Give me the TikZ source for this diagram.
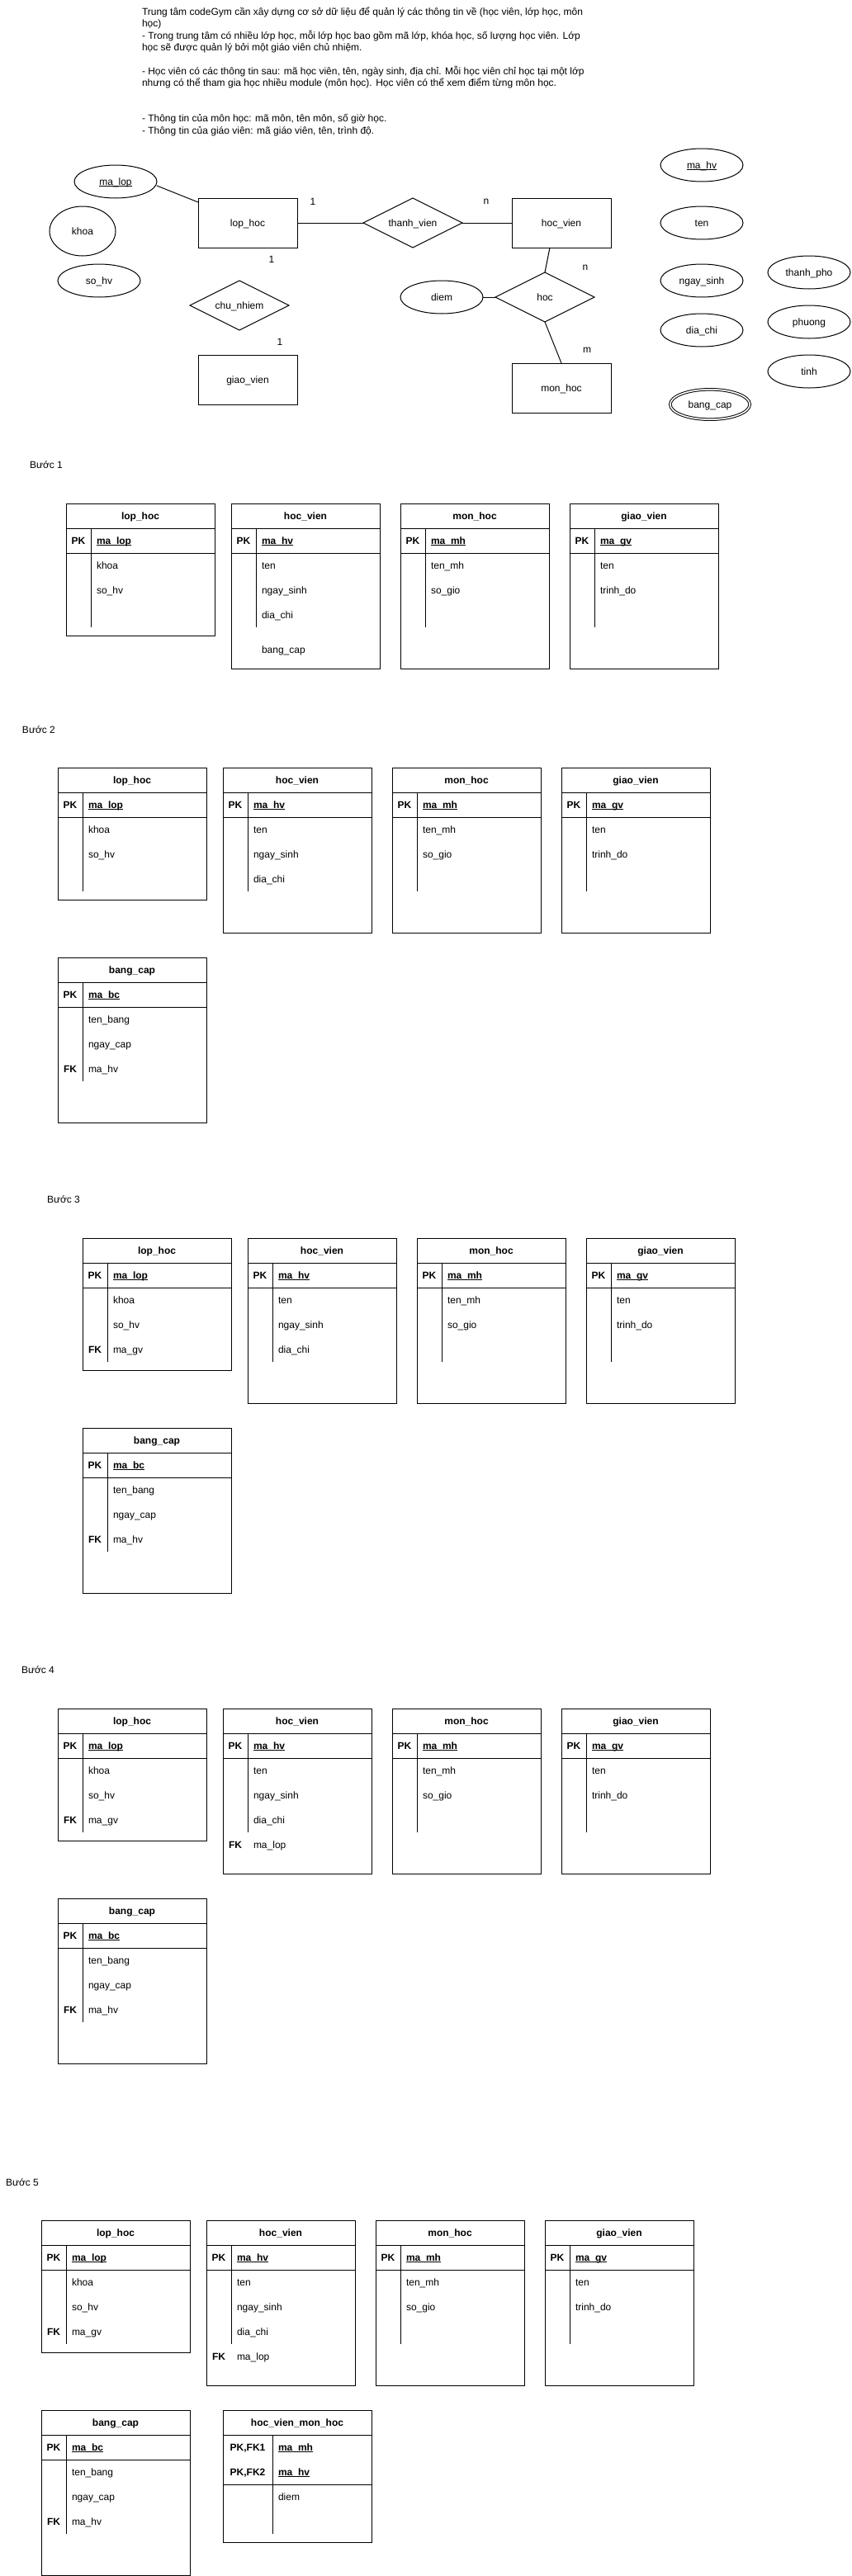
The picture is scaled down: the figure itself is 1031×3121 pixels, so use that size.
\documentclass[tikz,border=0pt]{standalone}
\usepackage{fontspec}
\setmainfont{Liberation Sans}
\usetikzlibrary{shapes.geometric,calc}

\newcommand\keyul[1]{\setbox0=\hbox{#1}\rlap{\rule[-2pt]{\wd0}{0.9pt}}\box0}

\tikzset{
  lbl/.style={font=\fontsize{12}{14.4}\selectfont, text height=10.9pt, text depth=2.5pt, inner sep=0pt, outer sep=0pt},
  ent/.style={lbl, draw, rectangle, minimum width=120pt, minimum height=60pt},
  rel/.style={lbl, draw, diamond, aspect=2, minimum width=120pt, minimum height=60pt},
  attr/.style={lbl, draw, ellipse, minimum width=100pt, minimum height=40pt},
  tframe/.style={draw, rectangle, minimum width=180pt, inner sep=0pt, outer sep=0pt, anchor=north west},
  ttitle/.style={lbl, font=\fontsize{12}{14.4}\selectfont\bfseries},
  tkey/.style={lbl, font=\fontsize{12}{14.4}\selectfont\bfseries},
  tfield/.style={lbl, anchor=west},
  step label/.style={lbl, anchor=west},
  desc/.style={lbl, anchor=west},
  card/.style={lbl}
}

% table frame: name, x, y, title, key column width, key rows, field rows with divider, height
\newcommand\dbframe[8]{%
  \node[tframe, minimum height=#8pt] (#1) at (#2,#3) {};
  \node[ttitle] (#1-t) at (#2+90,#3+15) {#4};
  \draw (#2,#3+30) -- (#2+180,#3+30);
  \draw (#2,#3+30+30*#6) -- (#2+180,#3+30+30*#6);
  \draw (#2+#5,#3+30) -- (#2+#5,#3+30+30*#6+30*#7);
}
% primary key row: name, x, y, kw, index, key text, field
\newcommand\dbpk[7]{%
  \node[tkey] (#1k) at (#2+#4/2,#3+45+30*#5) {#6};
  \node[tfield] (#1f) at (#2+#4+7,#3+45+30*#5) {\keyul{\bfseries #7}};
}
% foreign key row
\newcommand\dbfk[7]{%
  \node[tkey] (#1k) at (#2+#4/2,#3+45+30*#5) {#6};
  \node[tfield] (#1f) at (#2+#4+7,#3+45+30*#5) {#7};
}
% plain field row
\newcommand\dbf[6]{%
  \node[tfield] (#1) at (#2+#4+7,#3+45+30*#5) {#6};
}

\begin{document}
\begin{tikzpicture}[x=1pt,y=-1pt,line width=1pt]
\fill[white] (0,0) rectangle (1031,3121);
\useasboundingbox (0,0) rectangle (1031,3121);

% ---------- description text ----------
\node[desc] (d1) at (172,14) {Trung tâm codeGym cần xây dựng cơ sở dữ liệu để quản lý các thông tin về (học viên, lớp học, môn};
\node[desc] (d2) at (172,28.4) {học)};
\node[desc] (d3) at (172,42.8) {- Trong trung tâm có nhiều lớp học, mỗi lớp học bao gồm mã lớp, khóa học, số lượng học viên. Lớp};
\node[desc] (d4) at (172,57.2) {học sẽ được quản lý bởi một giáo viên chủ nhiệm.};
\node[desc] (d5) at (172,86) {- Học viên có các thông tin sau: mã học viên, tên, ngày sinh, địa chỉ. Mỗi học viên chỉ học tại một lớp};
\node[desc] (d6) at (172,100.4) {nhưng có thể tham gia học nhiều module (môn học). Học viên có thể xem điểm từng môn học.};
\node[desc] (d7) at (172,143.6) {- Thông tin của môn học: mã môn, tên môn, số giờ học.};
\node[desc] (d8) at (172,158) {- Thông tin của giáo viên: mã giáo viên, tên, trình độ.};

% ---------- ER diagram ----------
\node[attr] (malop) at (140,220) {\keyul{ma\_lop}};
\node[attr, minimum width=80pt, minimum height=60pt] (khoa) at (100,280) {khoa};
\node[attr] (sohv) at (120,340) {so\_hv};
\node[ent] (lophoc) at (300,270) {lop\_hoc};
\node[rel] (thanhvien) at (500,270) {thanh\_vien};
\node[ent] (hocvien) at (680,270) {hoc\_vien};
\node[rel] (chunhiem) at (290,370) {chu\_nhiem};
\node[ent] (giaovien) at (300,460) {giao\_vien};
\node[rel] (hoc) at (660,360) {hoc};
\node[attr] (diem) at (535,360) {diem};
\node[ent] (monhoc) at (680,470) {mon\_hoc};
\node[attr] (mahv) at (850,200) {\keyul{ma\_hv}};
\node[attr] (ten) at (850,270) {ten};
\node[attr] (ngaysinh) at (850,340) {ngay\_sinh};
\node[attr] (diachi) at (850,400) {dia\_chi};
\node[attr] (thanhpho) at (980,330) {thanh\_pho};
\node[attr] (phuong) at (980,390) {phuong};
\node[attr] (tinh) at (980,450) {tinh};
\node[attr, double, double distance=1.6pt, minimum width=96.4pt, minimum height=36.4pt] (bangcap) at (860,490) {bang\_cap};

\draw ([yshift=-5pt]malop.east) -- ([yshift=-5pt]lophoc.north west);
\draw (lophoc.east) -- (thanhvien.west);
\draw (thanhvien.east) -- (hocvien.west);
\draw ([xshift=-14pt]hocvien.south) -- (hoc.north);
\draw (hoc.south) -- (monhoc.north);
\draw (diem.east) -- (hoc.west);

\node[card] (c1) at (379,244) {1};
\node[card] (c2) at (589,243) {n};
\node[card] (c3) at (329,314) {1};
\node[card] (c4) at (339,414) {1};
\node[card] (c5) at (709,323) {n};
\node[card] (c6) at (711,423) {m};

% ---------- Buoc 1 ----------
\node[step label] (b1) at (36,563) {Bước 1};
\dbframe{s1lh}{80}{610}{lop\_hoc}{30}{1}{3}{160}
\dbpk{s1lh0}{80}{610}{30}{0}{PK}{ma\_lop}
\dbf{s1lh1}{80}{610}{30}{1}{khoa}
\dbf{s1lh2}{80}{610}{30}{2}{so\_hv}

\dbframe{s1hv}{280}{610}{hoc\_vien}{30}{1}{3}{200}
\dbpk{s1hv0}{280}{610}{30}{0}{PK}{ma\_hv}
\dbf{s1hv1}{280}{610}{30}{1}{ten}
\dbf{s1hv2}{280}{610}{30}{2}{ngay\_sinh}
\dbf{s1hv3}{280}{610}{30}{3}{dia\_chi}
\node[tfield] (s1hv4) at (317,787) {bang\_cap};

\dbframe{s1mh}{485}{610}{mon\_hoc}{30}{1}{3}{200}
\dbpk{s1mh0}{485}{610}{30}{0}{PK}{ma\_mh}
\dbf{s1mh1}{485}{610}{30}{1}{ten\_mh}
\dbf{s1mh2}{485}{610}{30}{2}{so\_gio}

\dbframe{s1gv}{690}{610}{giao\_vien}{30}{1}{3}{200}
\dbpk{s1gv0}{690}{610}{30}{0}{PK}{ma\_gv}
\dbf{s1gv1}{690}{610}{30}{1}{ten}
\dbf{s1gv2}{690}{610}{30}{2}{trinh\_do}

% ---------- Buoc 2 ----------
\node[step label] (b2) at (27,884) {Bước 2};
\dbframe{s2lh}{70}{930}{lop\_hoc}{30}{1}{3}{160}
\dbpk{s2lh0}{70}{930}{30}{0}{PK}{ma\_lop}
\dbf{s2lh1}{70}{930}{30}{1}{khoa}
\dbf{s2lh2}{70}{930}{30}{2}{so\_hv}

\dbframe{s2hv}{270}{930}{hoc\_vien}{30}{1}{3}{200}
\dbpk{s2hv0}{270}{930}{30}{0}{PK}{ma\_hv}
\dbf{s2hv1}{270}{930}{30}{1}{ten}
\dbf{s2hv2}{270}{930}{30}{2}{ngay\_sinh}
\dbf{s2hv3}{270}{930}{30}{3}{dia\_chi}

\dbframe{s2mh}{475}{930}{mon\_hoc}{30}{1}{3}{200}
\dbpk{s2mh0}{475}{930}{30}{0}{PK}{ma\_mh}
\dbf{s2mh1}{475}{930}{30}{1}{ten\_mh}
\dbf{s2mh2}{475}{930}{30}{2}{so\_gio}

\dbframe{s2gv}{680}{930}{giao\_vien}{30}{1}{3}{200}
\dbpk{s2gv0}{680}{930}{30}{0}{PK}{ma\_gv}
\dbf{s2gv1}{680}{930}{30}{1}{ten}
\dbf{s2gv2}{680}{930}{30}{2}{trinh\_do}

\dbframe{s2bc}{70}{1160}{bang\_cap}{30}{1}{3}{200}
\dbpk{s2bc0}{70}{1160}{30}{0}{PK}{ma\_bc}
\dbf{s2bc1}{70}{1160}{30}{1}{ten\_bang}
\dbf{s2bc2}{70}{1160}{30}{2}{ngay\_cap}
\dbfk{s2bc3}{70}{1160}{30}{3}{FK}{ma\_hv}

% ---------- Buoc 3 ----------
\node[step label] (b3) at (57,1453) {Bước 3};
\dbframe{s3lh}{100}{1500}{lop\_hoc}{30}{1}{3}{160}
\dbpk{s3lh0}{100}{1500}{30}{0}{PK}{ma\_lop}
\dbf{s3lh1}{100}{1500}{30}{1}{khoa}
\dbf{s3lh2}{100}{1500}{30}{2}{so\_hv}
\dbfk{s3lh3}{100}{1500}{30}{3}{FK}{ma\_gv}

\dbframe{s3hv}{300}{1500}{hoc\_vien}{30}{1}{3}{200}
\dbpk{s3hv0}{300}{1500}{30}{0}{PK}{ma\_hv}
\dbf{s3hv1}{300}{1500}{30}{1}{ten}
\dbf{s3hv2}{300}{1500}{30}{2}{ngay\_sinh}
\dbf{s3hv3}{300}{1500}{30}{3}{dia\_chi}

\dbframe{s3mh}{505}{1500}{mon\_hoc}{30}{1}{3}{200}
\dbpk{s3mh0}{505}{1500}{30}{0}{PK}{ma\_mh}
\dbf{s3mh1}{505}{1500}{30}{1}{ten\_mh}
\dbf{s3mh2}{505}{1500}{30}{2}{so\_gio}

\dbframe{s3gv}{710}{1500}{giao\_vien}{30}{1}{3}{200}
\dbpk{s3gv0}{710}{1500}{30}{0}{PK}{ma\_gv}
\dbf{s3gv1}{710}{1500}{30}{1}{ten}
\dbf{s3gv2}{710}{1500}{30}{2}{trinh\_do}

\dbframe{s3bc}{100}{1730}{bang\_cap}{30}{1}{3}{200}
\dbpk{s3bc0}{100}{1730}{30}{0}{PK}{ma\_bc}
\dbf{s3bc1}{100}{1730}{30}{1}{ten\_bang}
\dbf{s3bc2}{100}{1730}{30}{2}{ngay\_cap}
\dbfk{s3bc3}{100}{1730}{30}{3}{FK}{ma\_hv}

% ---------- Buoc 4 ----------
\node[step label] (b4) at (26,2023) {Bước 4};
\dbframe{s4lh}{70}{2070}{lop\_hoc}{30}{1}{3}{160}
\dbpk{s4lh0}{70}{2070}{30}{0}{PK}{ma\_lop}
\dbf{s4lh1}{70}{2070}{30}{1}{khoa}
\dbf{s4lh2}{70}{2070}{30}{2}{so\_hv}
\dbfk{s4lh3}{70}{2070}{30}{3}{FK}{ma\_gv}

\dbframe{s4hv}{270}{2070}{hoc\_vien}{30}{1}{3}{200}
\dbpk{s4hv0}{270}{2070}{30}{0}{PK}{ma\_hv}
\dbf{s4hv1}{270}{2070}{30}{1}{ten}
\dbf{s4hv2}{270}{2070}{30}{2}{ngay\_sinh}
\dbf{s4hv3}{270}{2070}{30}{3}{dia\_chi}
\dbfk{s4hv4}{270}{2070}{30}{4}{FK}{ma\_lop}

\dbframe{s4mh}{475}{2070}{mon\_hoc}{30}{1}{3}{200}
\dbpk{s4mh0}{475}{2070}{30}{0}{PK}{ma\_mh}
\dbf{s4mh1}{475}{2070}{30}{1}{ten\_mh}
\dbf{s4mh2}{475}{2070}{30}{2}{so\_gio}

\dbframe{s4gv}{680}{2070}{giao\_vien}{30}{1}{3}{200}
\dbpk{s4gv0}{680}{2070}{30}{0}{PK}{ma\_gv}
\dbf{s4gv1}{680}{2070}{30}{1}{ten}
\dbf{s4gv2}{680}{2070}{30}{2}{trinh\_do}

\dbframe{s4bc}{70}{2300}{bang\_cap}{30}{1}{3}{200}
\dbpk{s4bc0}{70}{2300}{30}{0}{PK}{ma\_bc}
\dbf{s4bc1}{70}{2300}{30}{1}{ten\_bang}
\dbf{s4bc2}{70}{2300}{30}{2}{ngay\_cap}
\dbfk{s4bc3}{70}{2300}{30}{3}{FK}{ma\_hv}

% ---------- Buoc 5 ----------
\node[step label] (b5) at (7,2644) {Bước 5};
\dbframe{s5lh}{50}{2690}{lop\_hoc}{30}{1}{3}{160}
\dbpk{s5lh0}{50}{2690}{30}{0}{PK}{ma\_lop}
\dbf{s5lh1}{50}{2690}{30}{1}{khoa}
\dbf{s5lh2}{50}{2690}{30}{2}{so\_hv}
\dbfk{s5lh3}{50}{2690}{30}{3}{FK}{ma\_gv}

\dbframe{s5hv}{250}{2690}{hoc\_vien}{30}{1}{3}{200}
\dbpk{s5hv0}{250}{2690}{30}{0}{PK}{ma\_hv}
\dbf{s5hv1}{250}{2690}{30}{1}{ten}
\dbf{s5hv2}{250}{2690}{30}{2}{ngay\_sinh}
\dbf{s5hv3}{250}{2690}{30}{3}{dia\_chi}
\dbfk{s5hv4}{250}{2690}{30}{4}{FK}{ma\_lop}

\dbframe{s5mh}{455}{2690}{mon\_hoc}{30}{1}{3}{200}
\dbpk{s5mh0}{455}{2690}{30}{0}{PK}{ma\_mh}
\dbf{s5mh1}{455}{2690}{30}{1}{ten\_mh}
\dbf{s5mh2}{455}{2690}{30}{2}{so\_gio}

\dbframe{s5gv}{660}{2690}{giao\_vien}{30}{1}{3}{200}
\dbpk{s5gv0}{660}{2690}{30}{0}{PK}{ma\_gv}
\dbf{s5gv1}{660}{2690}{30}{1}{ten}
\dbf{s5gv2}{660}{2690}{30}{2}{trinh\_do}

\dbframe{s5bc}{50}{2920}{bang\_cap}{30}{1}{3}{200}
\dbpk{s5bc0}{50}{2920}{30}{0}{PK}{ma\_bc}
\dbf{s5bc1}{50}{2920}{30}{1}{ten\_bang}
\dbf{s5bc2}{50}{2920}{30}{2}{ngay\_cap}
\dbfk{s5bc3}{50}{2920}{30}{3}{FK}{ma\_hv}

\dbframe{s5hm}{270}{2920}{hoc\_vien\_mon\_hoc}{60}{2}{2}{160}
\dbpk{s5hm0}{270}{2920}{60}{0}{PK,FK1}{ma\_mh}
\dbpk{s5hm1}{270}{2920}{60}{1}{PK,FK2}{ma\_hv}
\dbf{s5hm2}{270}{2920}{60}{2}{diem}
\end{tikzpicture}
\end{document}
